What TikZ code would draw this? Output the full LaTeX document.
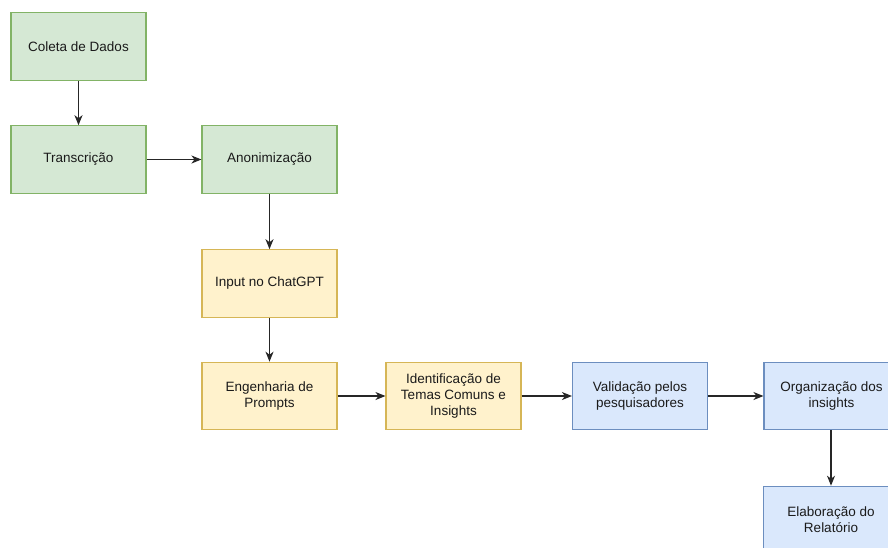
\documentclass[tikz,border=0pt]{standalone}
\usepackage{fontspec}
\setmainfont{Liberation Sans}
\usetikzlibrary{arrows.meta}
\definecolor{gfill}{HTML}{D5E8D4}
\definecolor{gline}{HTML}{82B366}
\definecolor{yfill}{HTML}{FFF2CC}
\definecolor{yline}{HTML}{D6B656}
\definecolor{bfill}{HTML}{DAE8FC}
\definecolor{bline}{HTML}{6C8EBF}
\definecolor{txt}{HTML}{1A1A1A}
\tikzset{
  box/.style={rectangle, minimum width=135pt, minimum height=67.5pt, inner sep=0pt,
    line width=1.1pt, align=center, text=txt,
    font=\fontsize{13.5}{16}\selectfont},
  gbox/.style={box, fill=gfill, draw=gline},
  ybox/.style={box, fill=yfill, draw=yline},
  bbox/.style={box, fill=bfill, draw=bline},
  conn/.style={line width=1.1pt, draw=black!85, -{Stealth[length=10pt, width=8pt, inset=3pt]}}
}
\begin{document}
\begin{tikzpicture}[x=1pt, y=-1pt]
\clip (0,0) rectangle (888,547);
\useasboundingbox (0,0) rectangle (888,547);
\fill[white] (0,0) rectangle (888,547);
\node[gbox] (coleta) at (78.5,46.5) {Coleta de Dados};
\node[gbox] (transc) at (78.5,159.5) {Transcrição};
\node[gbox] (anon) at (269.5,159.5) {Anonimização};
\node[ybox] (input) at (269.5,283.5) {Input no ChatGPT};
\node[ybox] (eng) at (269.5,396) {Engenharia de\\Prompts};
\node[ybox] (ident) at (453.5,396) {Identificação de\\Temas Comuns e\\Insights};
\node[bbox] (valid) at (640,396) {Validação pelos\\pesquisadores};
\node[bbox] (org) at (831.5,396) {Organização dos\\insights};
\node[bbox] (elab) at (831,520) {Elaboração do\\Relatório};
\draw[conn] (coleta) -- (transc);
\draw[conn] (transc) -- (anon);
\draw[conn] (anon) -- (input);
\draw[conn] (input) -- (eng);
\draw[conn] (eng) -- (ident);
\draw[conn] (ident) -- (valid);
\draw[conn] (valid) -- (org);
\draw[conn] (org.south -| elab.north) -- (elab.north);
\end{tikzpicture}
\end{document}
